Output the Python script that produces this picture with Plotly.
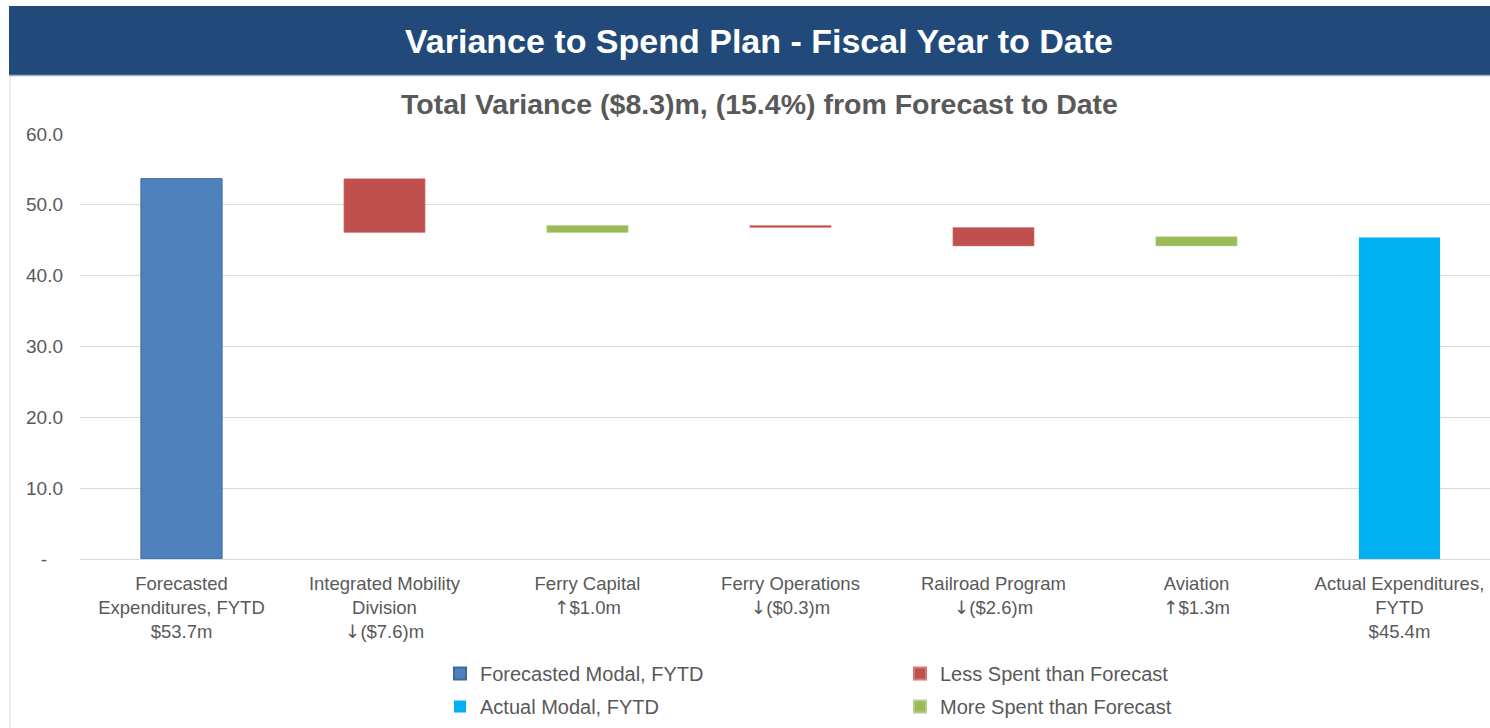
import plotly.graph_objects as go

UP = '<span style="font-family:DejaVu Sans;color:#595959">\u2191\ufe0e</span>'
DN = '<span style="font-family:DejaVu Sans;color:#595959">\u2193\ufe0e</span>'

# ---- data ----
categories = [
    "Forecasted<br>Expenditures, FYTD<br>$53.7m",
    f"Integrated Mobility<br>Division<br>{DN}($7.6)m",
    f"Ferry Capital<br>{UP}$1.0m",
    f"Ferry Operations<br>{DN}($0.3)m",
    f"Railroad Program<br>{DN}($2.6)m",
    f"Aviation<br>{UP}$1.3m",
    "Actual Expenditures,<br>FYTD<br>$45.4m",
]
forecast_total = 53.7
variances = [-7.6, 1.0, -0.3, -2.6, 1.3]
actual_total = 45.4
y_tickvals = [0, 10, 20, 30, 40, 50, 60]
y_ticktext = ["-\u00a0\u00a0\u00a0", "10.0", "20.0", "30.0", "40.0", "50.0", "60.0"]

title_text = "Variance to Spend Plan - Fiscal Year to Date"
subtitle_text = "Total Variance ($8.3)m, (15.4%) from Forecast to Date"

# ---- colours ----
C_FORE = "#4F81BD"
C_LESS = "#C0504D"
C_MORE = "#9BBB59"
C_ACT = "#00B0F0"
TXT = "#595959"
FONT = "Liberation Sans, Arial, DejaVu Sans, sans-serif"

# ---- geometry ----
W, H = 1490, 728
L, R, T, B = 80, 0, 134, 169


def px_x(px):
    return (px - L) / (W - L - R)


def px_y(py):
    return (H - B - py) / (H - T - B)


# waterfall bases computed from the values
less_x, less_base, less_y = [], [], []
more_x, more_base, more_y = [], [], []
level = forecast_total
for cat, v in zip(categories[1:6], variances):
    new = level + v
    if v < 0:
        less_x.append(cat); less_base.append(new); less_y.append(-v)
    else:
        more_x.append(cat); more_base.append(level); more_y.append(v)
    level = new

fig = go.Figure()
fig.add_trace(go.Bar(name="Forecasted Modal, FYTD", x=[categories[0]], y=[forecast_total],
                     base=[0], marker=dict(color=C_FORE, line=dict(color="#3C6A9E", width=1)),
                     width=0.4, legend="legend", legendgroup="a"))
fig.add_trace(go.Bar(name="Actual Modal, FYTD", x=[categories[6]], y=[actual_total],
                     base=[0], marker=dict(color=C_ACT, line=dict(width=0)), width=0.4,
                     legend="legend", legendgroup="b"))
fig.add_trace(go.Bar(name="Less Spent than Forecast", x=less_x, y=less_y, base=less_base,
                     marker=dict(color=C_LESS, line=dict(color="#D27A78", width=0.5)), width=0.4,
                     legend="legend2", legendgroup="c"))
fig.add_trace(go.Bar(name="More Spent than Forecast", x=more_x, y=more_y, base=more_base,
                     marker=dict(color=C_MORE, line=dict(color="#B5CE8A", width=0.5)), width=0.4,
                     legend="legend2", legendgroup="d"))

shapes = [
    # banner
    dict(type="rect", xref="paper", yref="paper", x0=px_x(9), x1=px_x(1495),
         y0=px_y(75), y1=px_y(6), fillcolor="#214A7B", line=dict(width=0), layer="below"),
    dict(type="line", xref="paper", yref="paper", x0=px_x(9), x1=px_x(1495),
         y0=px_y(75.5), y1=px_y(75.5), line=dict(color="#9DB0C8", width=1.5)),
    # left frame line
    dict(type="line", xref="paper", yref="paper", x0=px_x(10), x1=px_x(10),
         y0=px_y(76), y1=px_y(728), line=dict(color="#D9D9D9", width=1)),
]

annotations = [
    dict(text=f"<b>{title_text}</b>", xref="paper", yref="paper", x=px_x(759), y=px_y(41),
         xanchor="center", yanchor="middle", showarrow=False,
         font=dict(family=FONT, size=34, color="white")),
    dict(text=f"<b>{subtitle_text}</b>", xref="paper", yref="paper", x=px_x(759), y=px_y(104),
         xanchor="center", yanchor="middle", showarrow=False,
         font=dict(family=FONT, size=28.5, color=TXT)),
]

legend_common = dict(orientation="v", xanchor="left", yanchor="top", traceorder="grouped",
                     tracegroupgap=4, font=dict(family=FONT, size=20, color=TXT),
                     itemsizing="constant", itemwidth=30, bgcolor="rgba(0,0,0,0)",
                     xref="container", yref="container")

fig.update_layout(
    width=W, height=H,
    margin=dict(l=L, r=R, t=T, b=B, pad=0, autoexpand=False),
    paper_bgcolor="white", plot_bgcolor="white",
    barmode="overlay",
    shapes=shapes,
    annotations=annotations,
    font=dict(family=FONT, size=19, color=TXT),
    showlegend=True,
    legend=dict(x=440 / W, y=1 - 654 / H, **legend_common),
    legend2=dict(x=900 / W, y=1 - 654 / H, **legend_common),
    xaxis=dict(type="category", categoryorder="array", categoryarray=categories,
               range=[-0.5, 6.446], showgrid=False, showline=False, ticks="",
               ticklabelstandoff=11, automargin=False,
               tickfont=dict(family=FONT, size=18.5, color=TXT), fixedrange=True),
    yaxis=dict(range=[0, 60], tickvals=y_tickvals, ticktext=y_ticktext,
               showgrid=True, gridcolor="#D9D9D9", gridwidth=1,
               zeroline=True, zerolinecolor="#D9D9D9", zerolinewidth=1,
               showline=False, ticks="", ticklabelstandoff=16, automargin=False,
               tickfont=dict(family=FONT, size=19, color=TXT), fixedrange=True),
)

fig.write_html("out.html", config={"displayModeBar": False},
               post_script="document.body.style.margin='0';document.body.style.overflow='hidden';")
